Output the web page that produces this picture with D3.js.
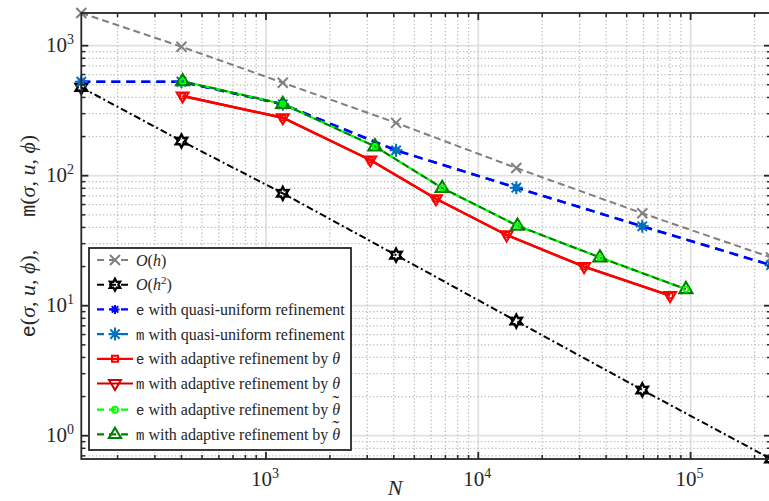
<!DOCTYPE html>
<html>
<head>
<meta charset="utf-8">
<script src="https://cdn.jsdelivr.net/npm/d3@7"></script>
</head>
<body style="margin:0">
<svg id="chart" width="769" height="501" style="display:block"></svg>
<script>
// Degrees of freedom for each refinement strategy
const nUniform     = [135, 400, 1200, 4100, 15100, 59200, 239100];
const nAdaptTheta  = [405, 1200, 3100, 6320, 13600, 31500, 80000];
const nAdaptTilde  = [405, 1200, 3260, 6760, 15300, 37400, 95000];

// Reference rates
const rateH  = [1784, 982, 519, 255, 114.6, 51.4, 23.5];
const rateH2 = [478, 184.8, 73.2, 24.5, 7.62, 2.25, 0.662];

// Error estimators e(σ,u,ϕ) and m(σ,u,ϕ)
const eUniform    = [528, 528, 354, 156.6, 80.9, 40.8, 20.5];
const mUniform    = [528, 528, 354, 156.6, 80.9, 40.8, 20.5];
const eAdaptTheta = [410, 279, 132, 66.5, 35.0, 19.95, 11.94];
const mAdaptTheta = [410, 279, 132, 66.5, 35.0, 19.95, 11.94];
const eAdaptTilde = [532, 356, 168, 80.4, 41.2, 23.5, 13.4];
const mAdaptTilde = [532, 356, 168, 80.4, 41.2, 23.5, 13.4];

// Axis ticks
const xMajor = [1e3, 1e4, 1e5];
const xMajorExp = ["3", "4", "5"];
const yMajor = [1, 10, 100, 1000];
const yMajorExp = ["0", "1", "2", "3"];

const SERIF = '"Liberation Serif"';
const MONO = '"Liberation Mono"';
const INK = "#262626";

const svg = d3.select("#chart");
const L = 81.3, R = 771, T = 13, B = 459;
const x = d3.scaleLog().domain([135, 239100]).range([L, R]);
const y = d3.scaleLog().domain([0.662, 1784]).range([B, T]);

const xMinor = [], yMinor = [];
for (let k = 2; k <= 5; k++) for (let m = 2; m <= 9; m++) {
  const v = m * Math.pow(10, k);
  if (v > x.domain()[0] && v < x.domain()[1]) xMinor.push(v);
}
for (let k = -1; k <= 3; k++) for (let m = 2; m <= 9; m++) {
  const v = m * Math.pow(10, k);
  if (v > y.domain()[0] && v < y.domain()[1]) yMinor.push(v);
}

// Grid
const grid = svg.append("g");
grid.selectAll(".gxM").data(xMajor).enter().append("line")
  .attr("x1", d => x(d)).attr("x2", d => x(d)).attr("y1", T).attr("y2", B)
  .attr("stroke", "#e1e1e1").attr("stroke-width", 1.8);
grid.selectAll(".gyM").data(yMajor).enter().append("line")
  .attr("x1", L).attr("x2", R).attr("y1", d => y(d)).attr("y2", d => y(d))
  .attr("stroke", "#e1e1e1").attr("stroke-width", 1.8);
grid.selectAll(".gxm").data(xMinor).enter().append("line")
  .attr("x1", d => x(d)).attr("x2", d => x(d)).attr("y1", T).attr("y2", B)
  .attr("stroke", "#bdbdbd").attr("stroke-width", 1.3).attr("stroke-dasharray", "1.3,2.3");
grid.selectAll(".gym").data(yMinor).enter().append("line")
  .attr("x1", L).attr("x2", R).attr("y1", d => y(d)).attr("y2", d => y(d))
  .attr("stroke", "#bdbdbd").attr("stroke-width", 1.3).attr("stroke-dasharray", "1.3,2.3");

// Marker shapes
function markerPath(kind, s) {
  switch (kind) {
    case "x": return `M${-s},${-s}L${s},${s}M${-s},${s}L${s},${-s}`;
    case "star": {
      const p = d3.path();
      for (let i = 0; i < 12; i++) {
        const r = i % 2 === 0 ? s : s * 0.55;
        const a = -Math.PI / 2 + i * Math.PI / 6;
        if (i === 0) p.moveTo(r * Math.cos(a), r * Math.sin(a));
        else p.lineTo(r * Math.cos(a), r * Math.sin(a));
      }
      p.closePath();
      return p.toString();
    }
    case "ast": {
      const d = s * 0.72;
      return `M0,${-s}L0,${s}M${-s},0L${s},0M${-d},${-d}L${d},${d}M${-d},${d}L${d},${-d}`;
    }
    case "tridown": return `M${-s},${-s * 0.6}L${s},${-s * 0.6}L0,${s * 1.1}Z`;
    case "triup": return `M${-s},${s * 0.6}L${s},${s * 0.6}L0,${-s * 1.1}Z`;
    case "square": return `M${-s},${-s}L${s},${-s}L${s},${s}L${-s},${s}Z`;
    case "circle": return d3.arc()({innerRadius: 0, outerRadius: s, startAngle: 0, endAngle: 2 * Math.PI});
  }
}

const series = [
  {n: nUniform,    v: rateH,       color: "#808080", dash: "7,4",     w: 2,   mk: "x",       ms: 5,   mw: 2},
  {n: nUniform,    v: rateH2,      color: "#000000", dash: "7,3,2,3", w: 2,   mk: "star",    ms: 6.5, mw: 2.4},
  {n: nUniform,    v: mUniform,    color: "#0072BD", dash: "9,6",     w: 2.5, mk: null},
  {n: nUniform,    v: eUniform,    color: "#0000FF", dash: "9,6",     w: 2.5, mk: "ast",     ms: 4,   mw: 2},
  {n: nUniform,    v: mUniform,    color: "#0072BD", dash: null,      w: 0,   mk: "ast",     ms: 6.5, mw: 2},
  {n: nAdaptTheta, v: mAdaptTheta, color: "#D00000", dash: null,      w: 2.4, mk: null},
  {n: nAdaptTheta, v: eAdaptTheta, color: "#FF0000", dash: null,      w: 2.4, mk: "square",  ms: 2.5, mw: 1.8},
  {n: nAdaptTheta, v: mAdaptTheta, color: "#FF0000", dash: null,      w: 0,   mk: "tridown", ms: 6,   mw: 2},
  {n: nAdaptTilde, v: eAdaptTilde, color: "#00FF00", dash: "7,4",     w: 2.2, mk: null},
  {n: nAdaptTilde, v: mAdaptTilde, color: "#008000", dash: "7,4",     w: 2.2, mk: null, offset: 5.5},
  {n: nAdaptTilde, v: mAdaptTilde, color: "#008000", dash: null,      w: 0,   mk: "triup",   ms: 6.5, mw: 2.2},
  {n: nAdaptTilde, v: eAdaptTilde, color: "#00FF00", dash: null,      w: 0,   mk: "circle",  ms: 2.5, mw: 1.8}
];

const line = d3.line().x(d => x(d[0])).y(d => y(d[1]));
const plot = svg.append("g");
series.forEach(s => {
  const pts = s.n.map((n, i) => [n, s.v[i]]);
  if (s.w > 0) {
    plot.append("path").attr("d", line(pts)).attr("fill", "none")
      .attr("stroke", s.color).attr("stroke-width", s.w)
      .attr("stroke-dasharray", s.dash)
      .attr("stroke-dashoffset", s.offset || 0);
  }
  if (s.mk) {
    plot.selectAll(null).data(pts).enter().append("path")
      .attr("transform", d => `translate(${x(d[0])},${y(d[1])})`)
      .attr("d", markerPath(s.mk, s.ms))
      .attr("fill", "none").attr("stroke", s.color).attr("stroke-width", s.mw)
      .attr("stroke-linejoin", "miter");
  }
});

// Axes box and ticks
const ax = svg.append("g").attr("stroke", INK);
ax.append("rect").attr("x", L).attr("y", T).attr("width", R - L).attr("height", B - T)
  .attr("fill", "none").attr("stroke-width", 1.8);
xMajor.forEach(v => {
  ax.append("line").attr("x1", x(v)).attr("x2", x(v)).attr("y1", B).attr("y2", B - 7).attr("stroke-width", 1.8);
  ax.append("line").attr("x1", x(v)).attr("x2", x(v)).attr("y1", T).attr("y2", T + 7).attr("stroke-width", 1.8);
});
xMinor.forEach(v => {
  ax.append("line").attr("x1", x(v)).attr("x2", x(v)).attr("y1", B).attr("y2", B - 4).attr("stroke-width", 1.5);
  ax.append("line").attr("x1", x(v)).attr("x2", x(v)).attr("y1", T).attr("y2", T + 4).attr("stroke-width", 1.5);
});
yMajor.forEach(v => {
  ax.append("line").attr("y1", y(v)).attr("y2", y(v)).attr("x1", L).attr("x2", L + 7).attr("stroke-width", 1.8);
  ax.append("line").attr("y1", y(v)).attr("y2", y(v)).attr("x1", R).attr("x2", R - 7).attr("stroke-width", 1.8);
});
yMinor.forEach(v => {
  ax.append("line").attr("y1", y(v)).attr("y2", y(v)).attr("x1", L).attr("x2", L + 4).attr("stroke-width", 1.5);
  ax.append("line").attr("y1", y(v)).attr("y2", y(v)).attr("x1", R).attr("x2", R - 4).attr("stroke-width", 1.5);
});

// Text helpers
function txt(sel, size) {
  return sel.append("text").style("font-family", SERIF)
    .attr("font-size", size).attr("fill", INK);
}
function span(t, str, o = {}) {
  const s = t.append("tspan").style("font-family", o.mono ? MONO : SERIF);
  if (o.size) s.attr("font-size", o.size);
  if (o.italic) s.attr("font-style", "italic");
  if (o.dx) s.attr("dx", o.dx);
  if (o.dy) s.attr("dy", o.dy);
  return s.text(str);
}

// Tick labels
xMajor.forEach((v, i) => {
  const t = txt(svg, 21).attr("x", x(v) - 1).attr("y", 486).attr("text-anchor", "middle");
  span(t, "10");
  span(t, xMajorExp[i], {dy: -8, size: 14});
});
yMajor.forEach((v, i) => {
  const t = txt(svg, 21).attr("x", 74).attr("y", y(v) + 6.5).attr("text-anchor", "end");
  span(t, "10");
  span(t, yMajorExp[i], {dy: -8, size: 14});
});

// Axis labels
txt(svg, 22).attr("x", 395).attr("y", 495).attr("text-anchor", "middle")
  .attr("font-style", "italic").text("N");

const yl = txt(svg, 22).attr("transform", "translate(35,236) rotate(-90)").attr("text-anchor", "middle");
function mathArgs(t) {
  span(t, "(");
  span(t, "σ", {italic: true});
  span(t, ", ");
  span(t, "u", {italic: true});
  span(t, ", ");
  span(t, "ϕ", {italic: true});
  span(t, ")");
}
span(yl, "e", {mono: true, size: 20});
mathArgs(yl);
span(yl, ",\u2003\u2002");
span(yl, "m", {mono: true, size: 20});
mathArgs(yl);

// Legend
const legendItems = [
  {label: "Oh",  color: "#808080", dash: true,  w: 2,   mk: "x",       ms: 5,   mw: 2},
  {label: "Oh2", color: "#000000", dash: true,  w: 2,   mk: "star",    ms: 6,   mw: 2.2},
  {label: "eU",  color: "#0000FF", dash: true,  w: 2.2, mk: "ast",     ms: 4.5, mw: 2},
  {label: "mU",  color: "#0072BD", dash: true,  w: 2.2, mk: "ast",     ms: 6.5, mw: 2},
  {label: "eT",  color: "#FF0000", dash: false, w: 2.2, mk: "square",  ms: 3,   mw: 2},
  {label: "mT",  color: "#D00000", dash: false, w: 2.2, mk: "tridown", ms: 6,   mw: 2},
  {label: "eTt", color: "#00FF00", dash: true,  w: 2.2, mk: "circle",  ms: 3,   mw: 2},
  {label: "mTt", color: "#008000", dash: true,  w: 2.2, mk: "triup",   ms: 6,   mw: 2.2}
];
const lg = svg.append("g");
lg.append("rect").attr("x", 89).attr("y", 248).attr("width", 262).attr("height", 202)
  .attr("fill", "#fff").attr("stroke", INK).attr("stroke-width", 1.8);
legendItems.forEach((it, i) => {
  const cy = 260 + i * 24.7 + (i >= 6 ? 1.5 : 0);
  lg.append("line").attr("x1", 97).attr("x2", 133).attr("y1", cy).attr("y2", cy)
    .attr("stroke", it.color).attr("stroke-width", it.w)
    .attr("stroke-dasharray", it.dash ? "7,5" : null);
  lg.append("path").attr("transform", `translate(115,${cy})`)
    .attr("d", markerPath(it.mk, it.ms)).attr("fill", "none")
    .attr("stroke", it.color).attr("stroke-width", it.mw);
  const t = txt(lg, 16).attr("x", 136).attr("y", cy + 5.5);
  if (it.label === "Oh" || it.label === "Oh2") {
    span(t, "O", {italic: true});
    span(t, "(");
    span(t, "h", {italic: true});
    if (it.label === "Oh2") {
      span(t, "2", {dy: -6, size: 11});
      span(t, ")", {dy: 6});
    } else span(t, ")");
  } else {
    span(t, it.label[0], {mono: true, size: 14});
    if (it.label[1] === "U") {
      span(t, " with quasi-uniform refinement");
    } else {
      span(t, " with adaptive refinement by ");
      span(t, "θ", {italic: true});
      if (it.label.length === 3) span(t, "\u02DC", {dx: -8, dy: -5, size: 21});
    }
  }
});
</script>
</body>
</html>
